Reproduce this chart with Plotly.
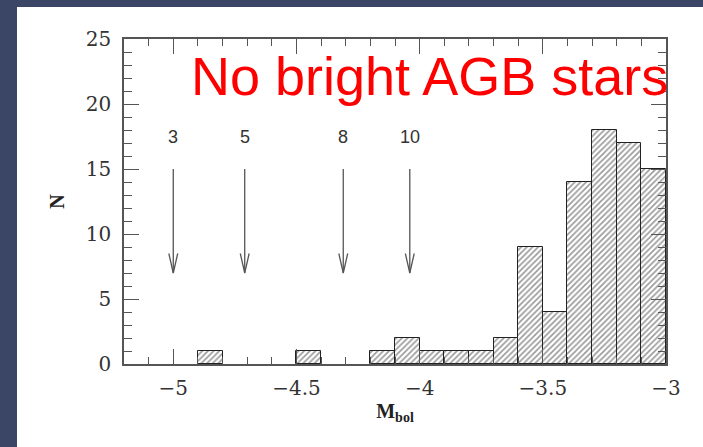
import plotly.graph_objects as go

# Histogram data: bin left edges (Mbol) and counts
bin_left = [-4.9, -4.5, -4.2, -4.1, -4.0, -3.9, -3.8, -3.7, -3.6, -3.5, -3.4, -3.3, -3.2, -3.1]
counts   = [1,    1,    1,    2,    1,    1,    1,    2,    9,    4,    14,   18,   17,   15]
bin_width = 0.1

# Arrows marking magnitudes for given masses
arrow_labels = ["3", "5", "8", "10"]
arrow_x      = [-5.0, -4.71, -4.31, -4.04]
arrow_top    = 15
arrow_bottom = 7
label_y      = 17.5

x_ticks = [-5, -4.5, -4, -3.5, -3]
x_tick_text = ["\u22125", "\u22124.5", "\u22124", "\u22123.5", "\u22123"]
y_ticks = [0, 5, 10, 15, 20, 25]

fig = go.Figure()

fig.add_trace(go.Bar(
    x=[b + bin_width / 2 for b in bin_left],
    y=counts,
    width=bin_width,
    marker=dict(
        color="white",
        line=dict(color="#222", width=1),
        pattern=dict(shape="/", fgcolor="#333", bgcolor="white", size=4, solidity=0.4),
    ),
    showlegend=False,
    hoverinfo="skip",
))

# arrow shafts and open V heads
head_dx = 0.018
head_dy = 1.5
ax_, ay_ = [], []
for xv in arrow_x:
    ax_ += [xv, xv, None, xv - head_dx, xv, xv + head_dx, None]
    ay_ += [arrow_top, arrow_bottom, None, arrow_bottom + head_dy, arrow_bottom, arrow_bottom + head_dy, None]
fig.add_trace(go.Scatter(
    x=ax_, y=ay_, mode="lines",
    line=dict(color="#555", width=1.3),
    showlegend=False, hoverinfo="skip",
))

for lab, xv in zip(arrow_labels, arrow_x):
    fig.add_annotation(x=xv, y=label_y, text=lab, showarrow=False,
                       font=dict(family="Liberation Sans", size=18, color="#333"))

fig.add_annotation(
    xref="paper", yref="paper", x=(189 - 124) / 542, y=(364 - 76) / 325,
    xanchor="left", yanchor="middle",
    text="No bright AGB stars", showarrow=False,
    font=dict(family="Liberation Sans", size=54, color="#ff0000"),
)

# white slide panel
fig.add_shape(type="rect", xref="paper", yref="paper",
              x0=(17 - 124) / 542, x1=1.2, y0=-0.4, y1=(364 - 7) / 325,
              fillcolor="white", line=dict(width=0), layer="below")

axis_common = dict(
    showgrid=False, zeroline=False, showline=True, linecolor="#555", linewidth=1.5,
    mirror="ticks", ticks="inside", tickcolor="#555", tickwidth=1.2,
    tickfont=dict(family="DejaVu Serif", size=20, color="#333"),
)

fig.update_xaxes(
    range=[-5.2, -3], tickvals=x_ticks, ticktext=x_tick_text, ticklen=15,
    ticklabelstandoff=5,
    minor=dict(dtick=0.1, ticks="inside", ticklen=7, tickcolor="#555", tickwidth=1.2),
    title=dict(text="<b>M<sub>bol</sub></b>", font=dict(family="Liberation Serif", size=20, color="#222"), standoff=5),
    **axis_common,
)
fig.update_yaxes(
    range=[0, 25], tickvals=y_ticks, ticklen=15,
    ticklabelstandoff=7,
    minor=dict(dtick=1, ticks="inside", ticklen=8, tickcolor="#555", tickwidth=1.2),
    title=dict(text="<b>N</b>", font=dict(family="Liberation Serif", size=20, color="#222"), standoff=16),
    **axis_common,
)

fig.update_layout(
    width=703, height=447,
    margin=dict(l=124, r=37, t=39, b=83),
    paper_bgcolor="#3b4566",
    plot_bgcolor="white",
    bargap=0,
)

fig.write_html("out.html", config={"displayModeBar": False},
               post_script="document.body.style.margin='0';document.body.style.overflow='hidden';")
